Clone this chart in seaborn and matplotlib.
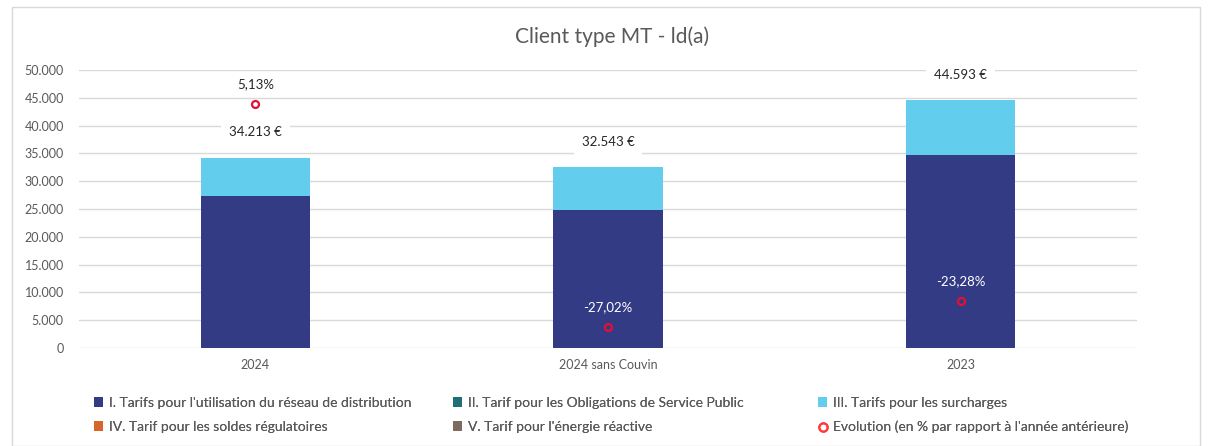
# Client type MT - ld(a) : barres empilées + évolution (axe secondaire)
import numpy as np
import pandas as pd
import matplotlib
matplotlib.use("Agg")
import matplotlib.pyplot as plt
from matplotlib.patches import Patch, Rectangle
from matplotlib.lines import Line2D
import seaborn as sns

# --- Données ---
categories = ["2024", "2024 sans Couvin", "2023"]
reseau = [27250, 24900, 34750]        # I. réseau de distribution
osp = [150, 0, 0]                     # II. obligations de service public
surcharges = [6813, 7643, 9843]       # III. surcharges
soldes = [0, 0, 0]                    # IV. soldes régulatoires
reactive = [0, 0, 0]                  # V. énergie réactive
totaux = [34213, 32543, 44593]
evolution = [5.13, -27.02, -23.28]    # en %

noms = ["I. Tarifs pour l'utilisation du réseau de distribution",
        "II. Tarif pour les Obligations de Service Public",
        "III. Tarifs pour les surcharges",
        "IV. Tarif pour les soldes régulatoires",
        "V. Tarif pour l'énergie réactive"]
couleurs = ["#333B85", "#1F6E78", "#62CDEC", "#D5652B", "#7F6A5F"]
rouge = "#E3102F"
gris = "#595959"

sns.set_theme(style="white")
plt.rcParams["font.family"] = ["Lato", "DejaVu Sans"]

df = pd.DataFrame({"cat": categories, "I": reseau, "II": osp, "III": surcharges,
                   "IV": soldes, "V": reactive})
cumul = df[["I", "II", "III", "IV", "V"]].cumsum(axis=1)

fig = plt.figure(figsize=(12.14, 4.46), dpi=100)
ax = fig.add_axes([79 / 1214, 1 - 348 / 446, (1137 - 79) / 1214, 278 / 446])

# empilement : on dessine les cumuls du plus haut au plus bas
for col, c in zip(["V", "IV", "III", "II", "I"], couleurs[::-1]):
    sns.barplot(x=df["cat"], y=cumul[col], color=c, width=0.31, ax=ax,
                saturation=1, linewidth=0)

ax.set_ylim(0, 50000)
ax.set_yticks(range(0, 50001, 5000))
ax.set_yticklabels([f"{v:,}".replace(",", ".") for v in range(0, 50001, 5000)])
ax.yaxis.grid(True, color="#D9D9D9", linewidth=1)
ax.set_axisbelow(True)
for s in ax.spines.values():
    s.set_visible(False)
ax.set_xlabel("")
ax.set_ylabel("")
ax.tick_params(axis="both", length=0, labelsize=9, colors=gris)
ax.tick_params(axis="x", pad=8)
ax.tick_params(axis="y", pad=11)

# totaux au-dessus des barres
for i, t in enumerate(totaux):
    ax.annotate(f"{t:,} €".replace(",", "."), (i, t), xytext=(0, 14),
                textcoords="offset points", ha="center", va="bottom",
                fontsize=9.5, color="#262626",
                bbox=dict(boxstyle="square,pad=0.6", fc="white", ec="none"))

# évolution sur axe secondaire (caché)
ax2 = ax.twinx()
sns.pointplot(x=categories, y=evolution, ax=ax2, linestyle="none", marker="o",
              markersize=5, color=rouge, markerfacecolor="none",
              markeredgewidth=1.6, errorbar=None)
ax2.set_ylim(-30.1, 10.09)
ax2.set_yticks([])
ax2.set_ylabel("")
for s in ax2.spines.values():
    s.set_visible(False)

couleurs_lbl = ["#262626", "white", "white"]
for i, e in enumerate(evolution):
    ax2.annotate(f"{e:.2f}%".replace(".", ","), (i, e), xytext=(0, 10),
                 textcoords="offset points", ha="center", va="bottom",
                 fontsize=9.5, color=couleurs_lbl[i])

ax.set_xlim(-0.5, 2.5)

# titre
fig.text(612 / 1214, 1 - 37 / 446, "Client type MT - ld(a)", ha="center",
         va="center", fontsize=15, color=gris)

# légende : trois colonnes, deux lignes
handles = [Patch(facecolor=c, edgecolor="none") for c in couleurs]
handles.append(Line2D([], [], linestyle="none", marker="o", markersize=6,
                      markerfacecolor="none", markeredgecolor="#FF3B3B",
                      markeredgewidth=1.5))
labels = noms + ["Evolution (en % par rapport à l'année antérieure)"]
colonnes = [(0, 3), (1, 4), (2, 5)]
xs = [94, 453, 818]
for (a, b), x in zip(colonnes, xs):
    leg = fig.legend([handles[a], handles[b]], [labels[a], labels[b]],
                     loc="upper left", bbox_to_anchor=(x / 1214, 1 - 397 / 446),
                     frameon=False, fontsize=10, borderpad=0, borderaxespad=0,
                     handlelength=0.65, handleheight=0.65, handletextpad=0.4,
                     labelspacing=0.85, labelcolor=gris)
    fig.add_artist(leg)

# cadre
fig.add_artist(Rectangle((12 / 1214, 0), (1200 - 12) / 1214, 1 - 7 / 446,
                         transform=fig.transFigure, fill=False,
                         edgecolor="#D9D9D9", linewidth=1))

fig.savefig("out.png", dpi=100)
